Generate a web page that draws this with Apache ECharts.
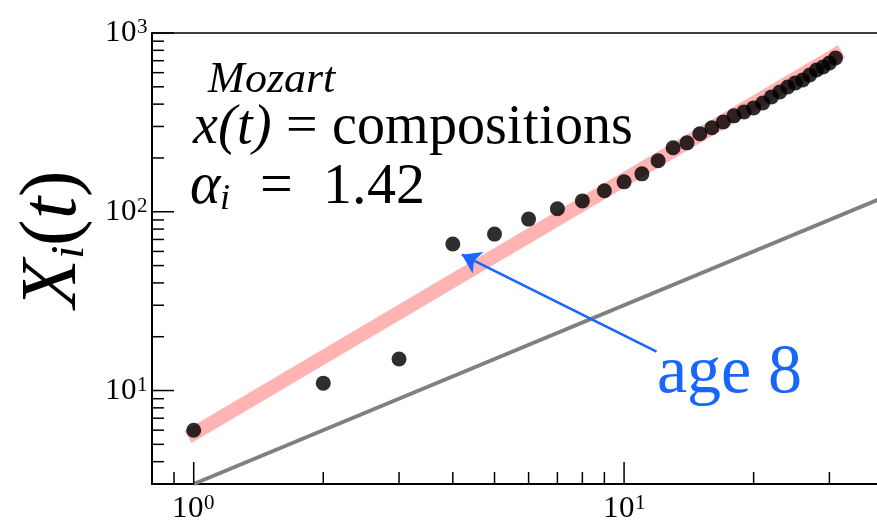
<!DOCTYPE html>
<html>
<head>
<meta charset="utf-8">
<script src="https://cdn.jsdelivr.net/npm/echarts@6/dist/echarts.min.js"></script>
<style>
@font-face {
  font-family: 'RefSerif'; font-style: normal; font-weight: 400;
  src: local('Liberation Serif'), local('LiberationSerif'), local('LiberationSerif-Regular'),
       local('Tinos'), local('Tinos-Regular'), local('Times New Roman'), local('TimesNewRomanPSMT'),
       local('Nimbus Roman'), local('NimbusRoman-Regular'), local('DejaVu Serif'), local('DejaVuSerif');
}
@font-face {
  font-family: 'RefSerif'; font-style: italic; font-weight: 400;
  src: local('Liberation Serif Italic'), local('LiberationSerif-Italic'),
       local('Tinos Italic'), local('Tinos-Italic'), local('Times New Roman Italic'), local('TimesNewRomanPS-ItalicMT'),
       local('Nimbus Roman Italic'), local('NimbusRoman-Italic'), local('DejaVu Serif Italic'), local('DejaVuSerif-Italic');
}
html,body{margin:0;padding:0;background:#fff;}
#chart{width:877px;height:523px;}
</style>
</head>
<body>
<div id="chart"></div>
<script>
// ---- data ----
const tValues = [1,2,3,4,5,6,7,8,9,10,11,12,13,14,15,16,17,18,19,20,21,22,23,24,25,26,27,28,29,30,31];
const compositions = [6,11,15,66,75,91,104,115,131,147,163,193,228,243,273,295,318,344,362,381,406,439,468,499,526,546,582,621,645,680,725];
const fitX = [0.97, 32];
const fitY = [5.5, 789];
const refX = [1, 40];
const refY = [3, 120];
const xMajorTicks = [1, 10];
const xMinorTicks = [0.9, 2,3,4,5,6,7,8,9, 20,30];
const yMajorTicks = [10, 100, 1000];
const yMinorTicks = [4,5,6,7,8,9, 20,30,40,50,60,70,80,90, 200,300,400,500,600,700,800,900];
const xRange = [0.8, 38.7];
const yRange = [3, 1000];
const arrowFrom = [11.9, 16.5];
const arrowTo = [4.2, 57.5];

const fallbackFamily = "'Liberation Serif', Tinos, 'Times New Roman', 'DejaVu Serif', serif";
let serif = fallbackFamily;
const chart = echarts.init(document.getElementById('chart'));

function powLabel(v) {
  const l = Math.log10(v);
  const e = Math.round(l);
  if (Math.abs(l - e) > 1e-6) return '';
  return '{b|10}{s|' + e + '}';
}

const tickData = [];
xMajorTicks.forEach(v => tickData.push([v, 0, 1]));
xMinorTicks.forEach(v => tickData.push([v, 0, 0]));
yMajorTicks.forEach(v => tickData.push([v, 1, 1]));
yMinorTicks.forEach(v => tickData.push([v, 1, 0]));

function tok(size, italic, color, extra) {
  const s = {fontFamily: serif, fontSize: size, color: color || '#000'};
  if (italic) s.fontStyle = 'italic';
  return Object.assign(s, extra || {});
}

function buildOption() {
  const labelRich = {
    b: tok(31, false, '#000', {lineHeight: 32}),
    s: tok(21, false, '#000', {lineHeight: 21, verticalAlign: 'top'})
  };
  const annotations = [
    {x: 208, y: 80, text: '{it|Mozart}', rich: {it: tok(44, true, '#000', {lineHeight: 44})}},
    {x: 193, y: 128, text: '{it|x(t)}{rm| = compositions}', rich: {
      it: tok(56, true, '#000', {lineHeight: 56}), rm: tok(56, false, '#000', {lineHeight: 56})}},
    {x: 190, y: 188, text: '{al|α}{sb|i}{rm|  =  1.42}', rich: {
      al: tok(58, true, '#000', {lineHeight: 60}),
      sb: tok(36, true, '#000', {verticalAlign: 'bottom', lineHeight: 44}),
      rm: tok(58, false, '#000', {lineHeight: 60})}},
    {x: 657, y: 374, text: '{bl|age 8}', rich: {bl: tok(68, false, '#1666ff', {lineHeight: 68})}}
  ];
  return {
    backgroundColor: '#fff',
    animation: false,
    textStyle: {fontFamily: serif},
    grid: {left: 152, top: 33, right: 0, bottom: 39, containLabel: false, outerBoundsMode: 'none'},
    xAxis: [{
      type: 'log', logBase: 10, min: xRange[0], max: xRange[1],
      axisLine: {show: true, lineStyle: {color: '#000', width: 2}},
      axisTick: {show: false}, splitLine: {show: false}, minorTick: {show: false},
      axisLabel: {formatter: powLabel, rich: labelRich, fontFamily: serif, margin: 9, showMinLabel: false, showMaxLabel: false}
    }, {
      type: 'log', logBase: 10, min: xRange[0], max: xRange[1], position: 'top',
      axisLine: {show: true, lineStyle: {color: '#000', width: 1.5}},
      axisTick: {show: false}, splitLine: {show: false}, axisLabel: {show: false}
    }],
    yAxis: {
      type: 'log', logBase: 10, min: yRange[0], max: yRange[1],
      axisLine: {show: true, lineStyle: {color: '#000', width: 2}},
      axisTick: {show: false}, splitLine: {show: false}, minorTick: {show: false},
      axisLabel: {formatter: powLabel, rich: labelRich, fontFamily: serif, margin: 4, showMinLabel: false},
      name: '{X|X}{s|i}{p|(}{t|t}{p|)}',
      nameLocation: 'middle', nameGap: 50, nameRotate: 90,
      nameTextStyle: {
        fontFamily: serif,
        padding: [0, 0, 0, 40],
        rich: {
          X: tok(80, true, '#000', {lineHeight: 80}),
          s: tok(48, true, '#000', {verticalAlign: 'bottom', lineHeight: 58}),
          p: tok(80, false, '#000', {lineHeight: 80}),
          t: tok(80, true, '#000', {lineHeight: 80})
        }
      }
    },
    series: [{
      type: 'line', data: fitX.map((x, i) => [x, fitY[i]]), showSymbol: false, silent: true,
      lineStyle: {color: '#ffb3b3', width: 14, cap: 'butt'}, z: 2
    }, {
      type: 'line', data: refX.map((x, i) => [x, refY[i]]), showSymbol: false, silent: true,
      lineStyle: {color: '#808080', width: 4}, z: 2,
      markPoint: {
        silent: true, animation: false,
        data: annotations.map(a => ({
          x: a.x, y: a.y, symbol: 'rect', symbolSize: 0,
          itemStyle: {color: 'rgba(0,0,0,0)'},
          label: {show: true, position: 'right', distance: 0, formatter: a.text, rich: a.rich, fontFamily: serif}
        }))
      }
    }, {
      type: 'scatter', data: tValues.map((t, i) => [t, compositions[i]]), symbolSize: 15,
      itemStyle: {color: 'rgba(0,0,0,0.82)', opacity: 1}, z: 3, silent: true,
      markLine: {
        silent: true, animation: false,
        label: {show: false},
        lineStyle: {color: '#1666ff', width: 2.5, type: 'solid', opacity: 1},
        symbolSize: 18,
        data: [[{coord: arrowFrom, symbol: 'none'}, {coord: arrowTo, symbol: 'arrow'}]]
      }
    }, {
      type: 'custom', silent: true, clip: false, z: 4,
      data: tickData,
      renderItem: function (params, api) {
        const v = api.value(0), isY = api.value(1), major = api.value(2);
        const len = major ? 22 : 12;
        let p;
        if (isY) {
          p = api.coord([xRange[0], v]);
          return {type: 'line', shape: {x1: p[0], y1: p[1], x2: p[0] + len, y2: p[1]}, style: {stroke: '#000', lineWidth: 1.5}};
        }
        p = api.coord([v, yRange[0]]);
        return {type: 'line', shape: {x1: p[0], y1: p[1], x2: p[0], y2: p[1] - len}, style: {stroke: '#000', lineWidth: 1.5}};
      }
    }]
  };
}

chart.setOption(buildOption());

// once the locally-sourced serif face is ready, redraw with it (new family string avoids stale width caches)
if (document.fonts && document.fonts.load) {
  Promise.all([
    document.fonts.load('40px RefSerif', 'Mozart'),
    document.fonts.load('italic 40px RefSerif', 'Mozart')
  ]).then(function (faces) {
    if (faces[0].length || faces[1].length) {
      serif = 'RefSerif, ' + fallbackFamily;
      chart.clear();
      chart.setOption(buildOption(), true);
    }
  }).catch(function () {});
}
</script>
</body>
</html>
